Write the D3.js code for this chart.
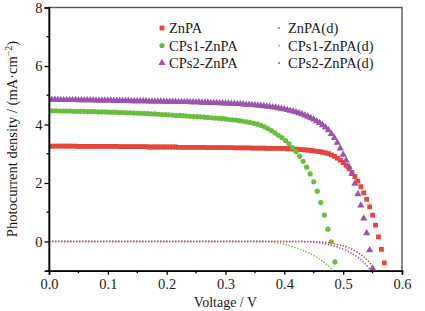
<!DOCTYPE html>
<html><head><meta charset="utf-8">
<script src="https://cdn.jsdelivr.net/npm/d3@7"></script>
<style>
body{margin:0;background:#fff}
svg{display:block}
text{font-family:"Liberation Serif","Times New Roman",serif;fill:#1a1a1a}
</style>
</head><body>
<svg id="c" width="425" height="311"></svg>
<script>
// ---------- data ----------
const xTicks = [0, 0.1, 0.2, 0.3, 0.4, 0.5, 0.6];
const xMinor = [0.05, 0.15, 0.25, 0.35, 0.45, 0.55];
const yTicks = [0, 2, 4, 6, 8];
const yMinor = [-1, 1, 3, 5, 7];
const seriesNames = ["ZnPA", "CPs1-ZnPA", "CPs2-ZnPA"];
const darkNames = ["ZnPA(d)", "CPs1-ZnPA(d)", "CPs2-ZnPA(d)"];

// light J-V (mA cm^-2), sampled on a regular voltage grid
const stepZnPA = 0.005, stepCPs1 = 0.006, stepCPs2 = 0.005;
const jZnPA = [
3.26,3.26,3.26,3.26,3.26,3.26,3.26,3.26,3.26,3.26,
3.25,3.25,3.25,3.25,3.25,3.25,3.25,3.25,3.25,3.25,
3.25,3.25,3.25,3.25,3.24,3.24,3.24,3.24,3.24,3.24,
3.24,3.24,3.24,3.24,3.23,3.23,3.23,3.23,3.23,3.23,
3.23,3.23,3.23,3.23,3.22,3.22,3.22,3.22,3.22,3.22,
3.22,3.22,3.22,3.22,3.21,3.21,3.21,3.21,3.21,3.21,
3.21,3.21,3.21,3.20,3.20,3.20,3.20,3.20,3.20,3.19,
3.19,3.19,3.19,3.19,3.18,3.18,3.18,3.18,3.18,3.18,
3.18,3.17,3.17,3.16,3.16,3.15,3.14,3.13,3.12,3.11,
3.10,3.08,3.07,3.05,3.03,3.00,2.96,2.91,2.85,2.78,
2.70,2.60,2.48,2.36,2.22,2.06,1.87,1.66,1.44,1.18,
0.90,0.56,0.16,-0.27,-0.73];
const jCPs1 = [
4.47,4.47,4.47,4.46,4.46,4.46,4.46,4.45,4.45,4.45,4.45,
4.44,4.44,4.44,4.43,4.43,4.43,4.42,4.42,4.42,4.41,
4.41,4.40,4.40,4.39,4.39,4.38,4.38,4.37,4.36,4.36,
4.35,4.34,4.34,4.33,4.32,4.31,4.31,4.30,4.29,4.28,
4.27,4.27,4.26,4.25,4.24,4.23,4.22,4.21,4.20,4.19,
4.17,4.16,4.15,4.13,4.11,4.09,4.07,4.04,4.01,3.97,
3.92,3.86,3.79,3.71,3.63,3.55,3.45,3.34,3.21,3.07,
2.91,2.74,2.54,2.31,2.04,1.72,1.33,0.90,0.42,-0.01,-0.70];
const jCPs2 = [
4.85,4.85,4.85,4.85,4.84,4.84,4.84,4.84,4.84,4.84,
4.83,4.83,4.83,4.83,4.83,4.83,4.82,4.82,4.82,4.82,
4.82,4.82,4.81,4.81,4.81,4.81,4.81,4.81,4.80,4.80,
4.80,4.80,4.80,4.80,4.79,4.79,4.79,4.79,4.79,4.78,
4.78,4.78,4.78,4.78,4.77,4.77,4.77,4.77,4.76,4.76,
4.76,4.76,4.75,4.75,4.75,4.74,4.74,4.74,4.73,4.73,
4.72,4.72,4.71,4.71,4.70,4.70,4.69,4.68,4.68,4.67,
4.66,4.65,4.64,4.63,4.62,4.61,4.59,4.58,4.56,4.54,
4.52,4.50,4.47,4.45,4.42,4.39,4.35,4.31,4.27,4.22,
4.17,4.11,4.05,3.98,3.90,3.81,3.68,3.54,3.38,3.18,
2.97,2.77,2.55,2.31,1.98,1.62,1.23,0.79,0.28,-0.30,-0.92];

// dark J-V: [voltage, J] readings
const darkZnPA = [[0,0],[0.2,0],[0.44,0],[0.47,-0.03],[0.49,-0.1],[0.51,-0.22],[0.53,-0.45],[0.545,-0.72],[0.555,-1.0]];
const darkCPs1 = [[0,0],[0.2,0],[0.37,0],[0.39,-0.06],[0.41,-0.15],[0.43,-0.3],[0.45,-0.48],[0.465,-0.68],[0.478,-0.9],[0.483,-1.0]];
const darkCPs2 = [[0,0],[0.2,0],[0.42,0],[0.45,-0.03],[0.47,-0.08],[0.49,-0.19],[0.51,-0.36],[0.53,-0.62],[0.548,-1.0]];

const colLight = ["#e6463a", "#6bbd3e", "#9d52ad"];
const colDark = ["#d9473d", "#7bbf4a", "#8f5cb4"];

// ---------- chart ----------
const svg = d3.select("#c");
const L = 49, R = 402, T = 7.5, B = 270.7;
const x = d3.scaleLinear().domain([0, 0.6]).range([L, R]);
const y = d3.scaleLinear().domain([-1, 8]).range([B, T]);

svg.append("defs").append("clipPath").attr("id","clip")
  .append("rect").attr("x",L).attr("y",T).attr("width",R-L).attr("height",B-T);

// frame (top/right)
svg.append("rect").attr("x",L).attr("y",T).attr("width",R-L).attr("height",B-T)
  .attr("fill","none").attr("stroke","#555").attr("stroke-width",1.4);

const toPts = (arr, step) => arr.map((j,i)=>[i*step, j]);
const light = [toPts(jZnPA, stepZnPA), toPts(jCPs1, stepCPs1), toPts(jCPs2, stepCPs2)];
const dark = [darkZnPA, darkCPs1, darkCPs2];

// dark curves: dotted
const line = d3.line().x(d=>x(d[0])).y(d=>y(d[1])).curve(d3.curveMonotoneX);
const dg = svg.append("g").attr("clip-path","url(#clip)");
dark.forEach((d,k)=>{
  dg.append("path").attr("d", line(d)).attr("fill","none")
    .attr("stroke", colDark[k]).attr("stroke-width",1.5)
    .attr("stroke-dasharray","1.4,1.6");
});

// light curves: markers
const shapes = [d3.symbolSquare, d3.symbolCircle, d3.symbolTriangle];
const sizes = [23, 21, 23];
const lg = svg.append("g").attr("clip-path","url(#clip)");
light.forEach((d,k)=>{
  lg.selectAll(null).data(d).enter().append("path")
    .attr("transform", p=>`translate(${x(p[0])},${y(p[1])})`)
    .attr("d", d3.symbol(shapes[k], sizes[k])())
    .attr("fill", colLight[k]);
});

// axes
const xAxis = d3.axisBottom(x).tickValues(xTicks).tickFormat(d3.format(".1f")).tickSize(4).tickPadding(4);
const gx = svg.append("g").attr("transform",`translate(0,${B})`).call(xAxis);
gx.selectAll(null).data(xMinor).enter().append("line")
  .attr("x1",d=>x(d)).attr("x2",d=>x(d)).attr("y1",0).attr("y2",2.5).attr("stroke","#000").attr("stroke-width",1.3);
const yAxis = d3.axisLeft(y).tickValues(yTicks).tickFormat(d3.format("d")).tickSize(4.5).tickPadding(2);
const gy = svg.append("g").attr("transform",`translate(${L},0)`).call(yAxis);
gy.selectAll(null).data(yMinor).enter().append("line")
  .attr("y1",d=>y(d)).attr("y2",d=>y(d)).attr("x1",0).attr("x2",-2.5).attr("stroke","#000").attr("stroke-width",1.3);
[gx, gy].forEach(g=>{
  g.select(".domain").attr("stroke","#000").attr("stroke-width",1.6);
  g.selectAll(".tick line").attr("stroke","#000").attr("stroke-width",1.3);
  g.selectAll("text").style("font-family",'"Liberation Serif","Times New Roman",serif')
    .style("font-size","14.5px").attr("fill","#1a1a1a");
});

// axis titles
svg.append("text").attr("x",(L+R)/2).attr("y",307).attr("text-anchor","middle")
  .style("font-size","14px").text("Voltage / V");
const yt = svg.append("text").attr("transform","translate(17,139) rotate(-90)")
  .attr("text-anchor","middle").style("font-size","14.5px");
yt.append("tspan").text("Photocurrent density / (mA·cm");
yt.append("tspan").attr("dy",-5).style("font-size","10px").text("−2");
yt.append("tspan").attr("dy",5).text(")");

// legend
const legL = svg.append("g");
seriesNames.forEach((n,k)=>{
  const cy = 28 + k*17.5;
  legL.append("path").attr("transform",`translate(162,${cy})`)
    .attr("d", d3.symbol(shapes[k], sizes[k])()).attr("fill", colLight[k]);
  legL.append("text").attr("x",169).attr("y",cy+5).style("font-size","14.5px").text(n);
});
darkNames.forEach((n,k)=>{
  const cy = 28 + k*17.5;
  legL.append("circle").attr("cx",279).attr("cy",cy).attr("r",1).attr("fill",colDark[k]);
  legL.append("text").attr("x",288).attr("y",cy+5).style("font-size","14.5px").text(n);
});
</script>
</body></html>
